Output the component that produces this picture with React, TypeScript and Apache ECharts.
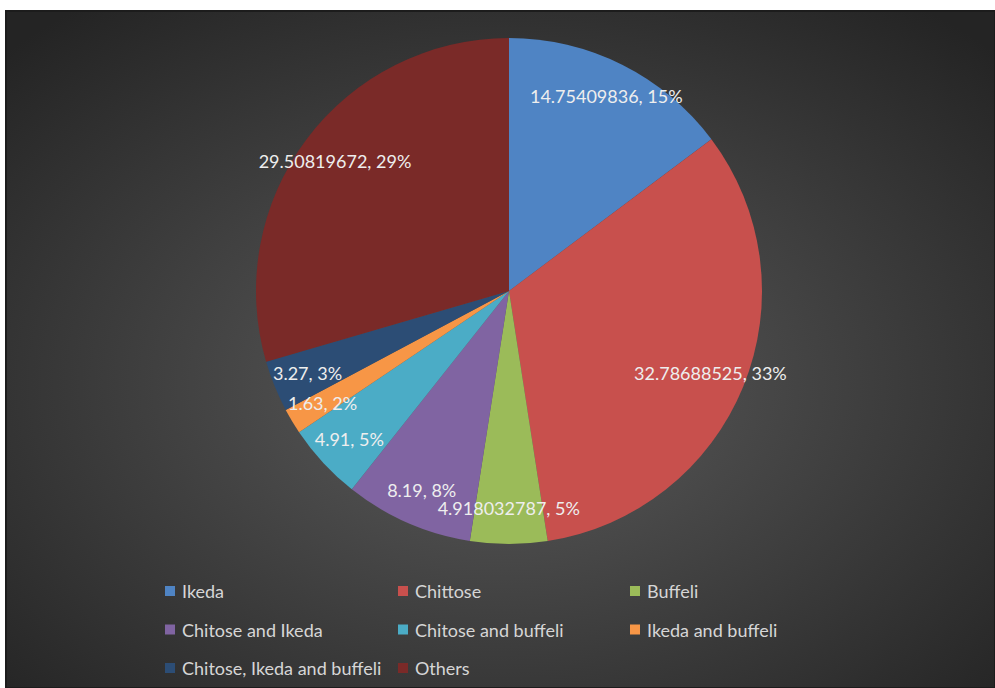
import React, { useEffect, useRef } from "react";
import * as echarts from "echarts";

const categories = [
  "Ikeda",
  "Chittose",
  "Buffeli",
  "Chitose and Ikeda",
  "Chitose and buffeli",
  "Ikeda and buffeli",
  "Chitose, Ikeda and buffeli",
  "Others",
];
const values = [14.75409836, 32.78688525, 4.918032787, 8.19, 4.91, 1.63, 3.27, 29.50819672];
const colors = ["#4F84C4", "#C8504D", "#9BBB59", "#8064A2", "#4BACC6", "#F79646", "#2C4D75", "#7A2A28"];

const legendCol1 = ["Ikeda", "Chitose and Ikeda", "Chitose, Ikeda and buffeli"];
const legendCol2 = ["Chittose", "Chitose and buffeli", "Others"];
const legendCol3 = ["Buffeli", "Ikeda and buffeli"];

const FONT = "Lato, 'Open Sans', sans-serif";

export default function App() {
  const ref = useRef<HTMLDivElement>(null);
  useEffect(() => {
    document.body.style.margin = "0";
    const chart = echarts.init(ref.current!, null, { renderer: "svg" });
    const pieData = categories.map((name, i) => ({
      name,
      value: values[i],
      itemStyle: { color: colors[i] },
    }));
    const labelData = categories.map((name, i) => ({
      name,
      value: values[i],
      itemStyle: { color: "rgba(0,0,0,0)" },
    }));
    const legendBase = {
      orient: "vertical" as const,
      icon: "rect",
      itemWidth: 10,
      itemHeight: 10,
      itemGap: 20.5,
      padding: 0,
      selectedMode: false,
      textStyle: { color: "#d6d6d6", fontSize: 18, fontFamily: FONT, lineHeight: 18, padding: [0, 0, 0, 2] },
    };
    chart.setOption({
      animation: false,
      backgroundColor: "#ffffff",
      graphic: [
        {
          type: "rect",
          z: -10,
          shape: { x: 6, y: 11, width: 989, height: 677 },
          style: {
            fill: new echarts.graphic.RadialGradient(0.5, 0.55, 0.7, [
              { offset: 0, color: "#5c5c5c" },
              { offset: 1, color: "#242424" },
            ]),
            stroke: "#1c1c1c",
            lineWidth: 2,
          },
        },
      ],
      legend: [
        { ...legendBase, left: 165, top: 582, data: legendCol1 },
        { ...legendBase, left: 398, top: 582, data: legendCol2 },
        { ...legendBase, left: 630, top: 582, data: legendCol3 },
      ],
      series: [
        {
          type: "pie",
          center: [509, 291],
          radius: [0, 253],
          startAngle: 90,
          clockwise: true,
          percentPrecision: 0,
          label: { show: false },
          labelLine: { show: false },
          itemStyle: { borderWidth: 0 },
          emphasis: { disabled: true },
          data: pieData,
        },
        {
          type: "pie",
          center: [509, 291],
          radius: [176, 253],
          startAngle: 90,
          clockwise: true,
          silent: true,
          percentPrecision: 0,
          label: {
            show: true,
            position: "inside",
            formatter: "{c}, {d}%",
            color: "#eeeeee",
            fontSize: 18,
            fontFamily: FONT,
          },
          labelLine: { show: false },
          itemStyle: { borderWidth: 0 },
          emphasis: { disabled: true },
          data: labelData,
        },
      ],
    });
    return () => chart.dispose();
  }, []);
  return <div ref={ref} style={{ width: 995, height: 688 }} />;
}
